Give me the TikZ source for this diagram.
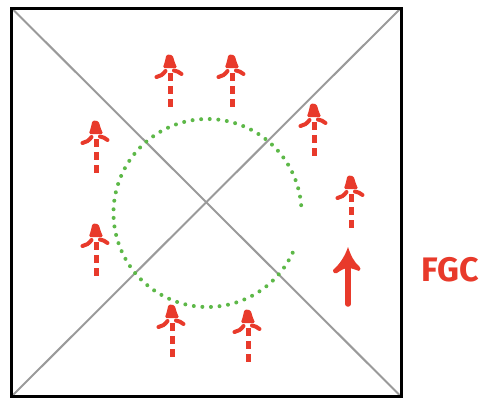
\documentclass[tikz,border=0pt]{standalone}
\usepackage{fontspec}
\newfontfamily\fgcfont{Fira Sans}
\definecolor{fred}{HTML}{E83A2B}
\definecolor{fgreen}{HTML}{5DB848}
\definecolor{fgray}{HTML}{9A9A9A}
\tikzset{
  darrow/.pic={
    \fill[fred, rounded corners=1.5pt] (-3.5,-0.5) -- (2.5,0) -- (5,8) -- (7.2,13) -- (-7.2,13) -- (-5.5,8) -- cycle;
    \draw[fred, line width=4pt, line cap=round] (-4.5,16) .. controls (-7,19.5) and (-10,21.5) .. (-13.5,22);
    \draw[fred, line width=4pt, line cap=round] (4,15.5) .. controls (7,16) and (9,17) .. (11.5,19);
    \draw[fred, line width=5pt, dash pattern=on 8.3pt off 5pt] (0,17.5) -- (0,54);
  },
  frame/.style={draw=black, line width=3pt},
  diag/.style={draw=fgray, line width=2pt},
  dotcircle/.style={draw=fgreen, line width=4pt, line cap=round, dash pattern=on 0pt off 8.6pt}
}
\begin{document}
\begin{tikzpicture}[x=1pt,y=-1pt]
\useasboundingbox (0,0) rectangle (481,399);
\coordinate (tl) at (11.5,8);
\coordinate (tr) at (401,8);
\coordinate (br) at (401,396.5);
\coordinate (bl) at (11.5,396.5);
\draw[diag] (tl) -- (br);
\draw[diag] (tr) -- (bl);
\draw[frame] (tl) rectangle (br);
\coordinate (cc) at (207.5,213);
\draw[dotcircle] ([shift={(25:94)}]cc) arc[start angle=25, end angle=360, radius=94];
\pic at (170,55) {darrow};
\pic at (232,55) {darrow};
\pic at (96,121) {darrow};
\pic at (96,224) {darrow};
\pic at (172,305) {darrow};
\pic at (248,310) {darrow};
\pic at (314,104) {darrow};
\pic at (351,176) {darrow};
\draw[fred, line width=5.5pt, line cap=round] (348,304) -- (348,256);
\fill[fred] (348,247) .. controls (345,256) and (340,264) .. (333,270) .. controls (333,273) and (335,274) .. (337,273) .. controls (341,270) and (345,268) .. (348,268) .. controls (352,268) and (356,270) .. (359,271) .. controls (361,270) and (361,268) .. (359,266) .. controls (354,262) and (351,256) .. (348,247) -- cycle;
\node[text=fred, font=\fgcfont\bfseries\fontsize{34}{34}\selectfont, inner sep=0pt] (fgc) at (450,270) {FGC};
\end{tikzpicture}
\end{document}
